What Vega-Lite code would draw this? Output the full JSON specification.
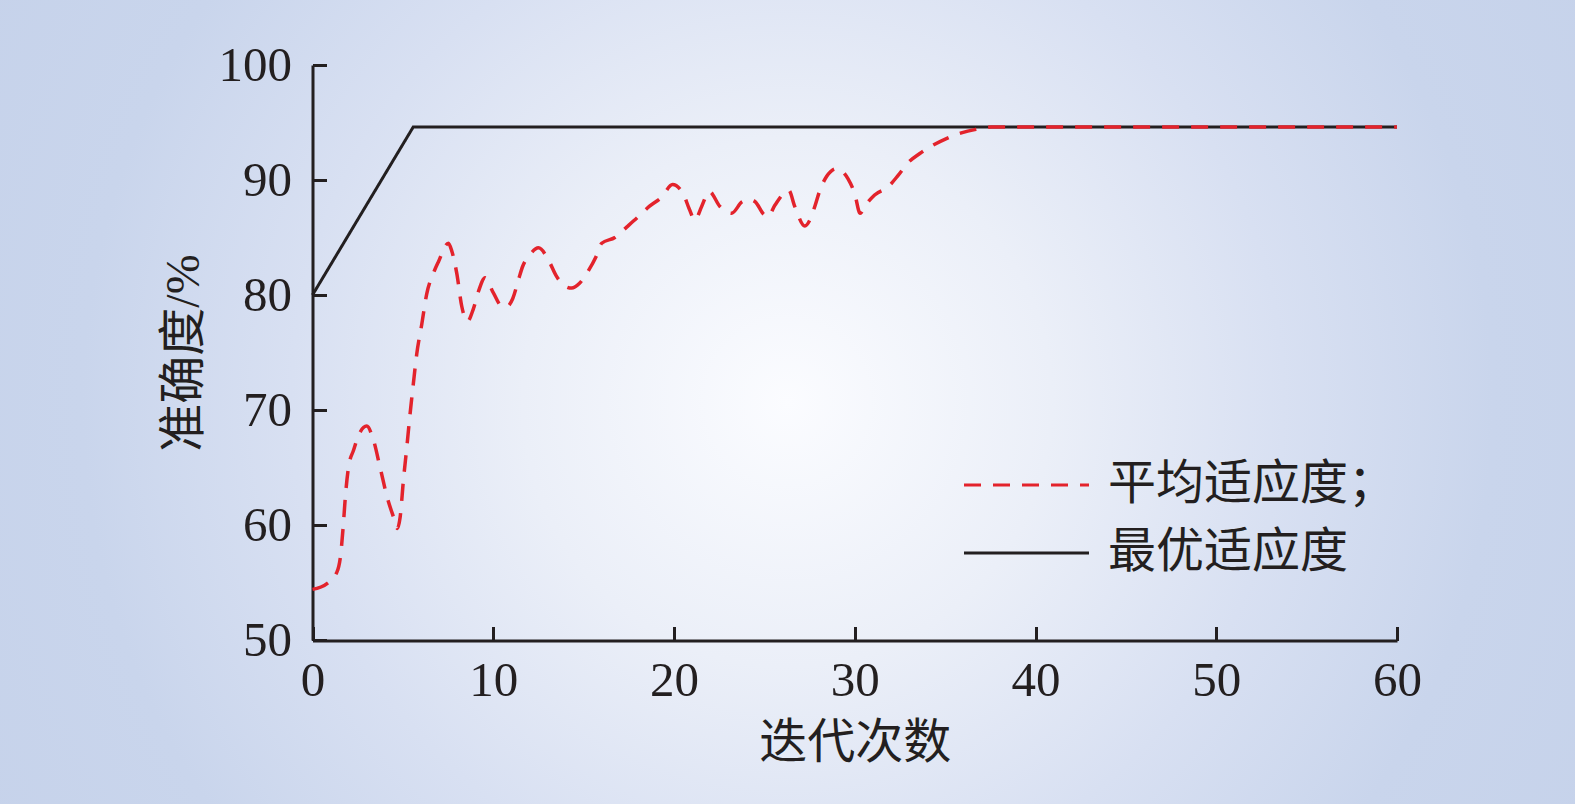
{
  "$schema": "https://vega.github.io/schema/vega-lite/v6.json",
  "width": 1575,
  "height": 804,
  "autosize": {"type": "none"},
  "padding": 0,
  "background": "#c4d1ea",
  "config": {
    "view": {
      "stroke": null,
      "fill": {
        "gradient": "radial",
        "x1": 0.5, "y1": 0.5, "r1": 0,
        "x2": 0.5, "y2": 0.5, "r2": 0.7,
        "stops": [
          {"offset": 0, "color": "#fbfcff"},
          {"offset": 0.24, "color": "#ebeff8"},
          {"offset": 0.45, "color": "#d8e0f2"},
          {"offset": 0.64, "color": "#c9d5ec"},
          {"offset": 1, "color": "#c3d0e9"}
        ]
      }
    },
    "axis": {
      "grid": false,
      "domainColor": "#231f20",
      "domainWidth": 3,
      "tickColor": "#231f20",
      "tickWidth": 3,
      "tickSize": -14,
      "labelFont": "Liberation Serif",
      "labelFontSize": 49,
      "labelColor": "#231f20",
      "labelFlush": false,
      "labelOverlap": false,
      "titleFont": "'Liberation Serif', 'Noto Sans CJK SC'",
      "titleFontSize": 48,
      "titleFontWeight": "normal",
      "titleColor": "#231f20"
    },
    "legend": {
      "orient": "none",
      "legendX": 945,
      "legendY": 461,
      "padding": 0,
      "symbolType": "M-1,0H24",
      "symbolSize": 100,
      "symbolStrokeWidth": 3,
      "labelFont": "'Liberation Serif', 'Noto Sans CJK SC'",
      "labelFontSize": 48,
      "labelColor": "#231f20",
      "labelOffset": 115,
      "labelLimit": 600,
      "rowPadding": 20
    }
  },
  "data": {
    "values": [
      {"x": 0, "y": 80, "series": "最优适应度"},
      {"x": 5.57, "y": 94.6, "series": "最优适应度"},
      {"x": 60, "y": 94.6, "series": "最优适应度"},
      {"x": 0, "y": 54.4, "series": "平均适应度；"},
      {"x": 0.8, "y": 54.9, "series": "平均适应度；"},
      {"x": 1.35, "y": 55.9, "series": "平均适应度；"},
      {"x": 1.55, "y": 57.3, "series": "平均适应度；"},
      {"x": 1.7, "y": 59.9, "series": "平均适应度；"},
      {"x": 1.82, "y": 62.5, "series": "平均适应度；"},
      {"x": 2.0, "y": 65.1, "series": "平均适应度；"},
      {"x": 2.27, "y": 66.5, "series": "平均适应度；"},
      {"x": 2.55, "y": 67.8, "series": "平均适应度；"},
      {"x": 3.0, "y": 68.6, "series": "平均适应度；"},
      {"x": 3.37, "y": 67.4, "series": "平均适应度；"},
      {"x": 3.74, "y": 65.0, "series": "平均适应度；"},
      {"x": 4.15, "y": 62.3, "series": "平均适应度；"},
      {"x": 4.48, "y": 60.7, "series": "平均适应度；"},
      {"x": 4.7, "y": 59.7, "series": "平均适应度；"},
      {"x": 4.85, "y": 60.7, "series": "平均适应度；"},
      {"x": 5.03, "y": 63.9, "series": "平均适应度；"},
      {"x": 5.22, "y": 66.8, "series": "平均适应度；"},
      {"x": 5.4, "y": 69.7, "series": "平均适应度；"},
      {"x": 5.58, "y": 72.3, "series": "平均适应度；"},
      {"x": 5.77, "y": 74.9, "series": "平均适应度；"},
      {"x": 6.05, "y": 77.5, "series": "平均适应度；"},
      {"x": 6.32, "y": 80.1, "series": "平均适应度；"},
      {"x": 6.69, "y": 81.9, "series": "平均适应度；"},
      {"x": 6.97, "y": 82.9, "series": "平均适应度；"},
      {"x": 7.52, "y": 84.5, "series": "平均适应度；"},
      {"x": 7.71, "y": 83.8, "series": "平均适应度；"},
      {"x": 7.98, "y": 81.9, "series": "平均适应度；"},
      {"x": 8.26, "y": 79.0, "series": "平均适应度；"},
      {"x": 8.57, "y": 77.7, "series": "平均适应度；"},
      {"x": 8.9, "y": 78.8, "series": "平均适应度；"},
      {"x": 9.18, "y": 80.3, "series": "平均适应度；"},
      {"x": 9.55, "y": 81.5, "series": "平均适应度；"},
      {"x": 10.0, "y": 80.2, "series": "平均适应度；"},
      {"x": 10.5, "y": 79.0, "series": "平均适应度；"},
      {"x": 10.75, "y": 79.0, "series": "平均适应度；"},
      {"x": 11.08, "y": 79.7, "series": "平均适应度；"},
      {"x": 11.39, "y": 81.3, "series": "平均适应度；"},
      {"x": 11.63, "y": 82.5, "series": "平均适应度；"},
      {"x": 12.03, "y": 83.5, "series": "平均适应度；"},
      {"x": 12.5, "y": 84.1, "series": "平均适应度；"},
      {"x": 13.1, "y": 82.9, "series": "平均适应度；"},
      {"x": 13.47, "y": 81.7, "series": "平均适应度；"},
      {"x": 14.06, "y": 80.7, "series": "平均适应度；"},
      {"x": 14.34, "y": 80.6, "series": "平均适应度；"},
      {"x": 14.76, "y": 81.0, "series": "平均适应度；"},
      {"x": 15.26, "y": 82.1, "series": "平均适应度；"},
      {"x": 15.68, "y": 83.3, "series": "平均适应度；"},
      {"x": 16.0, "y": 84.5, "series": "平均适应度；"},
      {"x": 16.73, "y": 85.0, "series": "平均适应度；"},
      {"x": 17.38, "y": 85.9, "series": "平均适应度；"},
      {"x": 18.02, "y": 86.8, "series": "平均适应度；"},
      {"x": 18.63, "y": 87.7, "series": "平均适应度；"},
      {"x": 19.31, "y": 88.5, "series": "平均适应度；"},
      {"x": 19.92, "y": 89.6, "series": "平均适应度；"},
      {"x": 20.51, "y": 88.8, "series": "平均适应度；"},
      {"x": 20.84, "y": 87.5, "series": "平均适应度；"},
      {"x": 21.16, "y": 86.5, "series": "平均适应度；"},
      {"x": 21.53, "y": 87.7, "series": "平均适应度；"},
      {"x": 21.95, "y": 89.0, "series": "平均适应度；"},
      {"x": 22.54, "y": 87.7, "series": "平均适应度；"},
      {"x": 23.18, "y": 87.1, "series": "平均适应度；"},
      {"x": 23.77, "y": 88.1, "series": "平均适应度；"},
      {"x": 24.2, "y": 88.3, "series": "平均适应度；"},
      {"x": 24.5, "y": 88.1, "series": "平均适应度；"},
      {"x": 24.97, "y": 87.0, "series": "平均适应度；"},
      {"x": 25.2, "y": 86.8, "series": "平均适应度；"},
      {"x": 25.58, "y": 87.8, "series": "平均适应度；"},
      {"x": 26.35, "y": 89.1, "series": "平均适应度；"},
      {"x": 26.68, "y": 87.7, "series": "平均适应度；"},
      {"x": 27.24, "y": 86.0, "series": "平均适应度；"},
      {"x": 27.51, "y": 86.5, "series": "平均适应度；"},
      {"x": 27.79, "y": 87.7, "series": "平均适应度；"},
      {"x": 28.07, "y": 89.1, "series": "平均适应度；"},
      {"x": 28.44, "y": 90.3, "series": "平均适应度；"},
      {"x": 29.0, "y": 91.0, "series": "平均适应度；"},
      {"x": 29.63, "y": 90.1, "series": "平均适应度；"},
      {"x": 30.0, "y": 88.8, "series": "平均适应度；"},
      {"x": 30.3, "y": 87.1, "series": "平均适应度；"},
      {"x": 30.55, "y": 87.7, "series": "平均适应度；"},
      {"x": 31.1, "y": 88.7, "series": "平均适应度；"},
      {"x": 31.84, "y": 89.4, "series": "平均适应度；"},
      {"x": 32.4, "y": 90.4, "series": "平均适应度；"},
      {"x": 32.95, "y": 91.5, "series": "平均适应度；"},
      {"x": 33.6, "y": 92.3, "series": "平均适应度；"},
      {"x": 34.3, "y": 93.0, "series": "平均适应度；"},
      {"x": 35.07, "y": 93.6, "series": "平均适应度；"},
      {"x": 35.9, "y": 94.1, "series": "平均适应度；"},
      {"x": 36.7, "y": 94.4, "series": "平均适应度；"},
      {"x": 37.55, "y": 94.6, "series": "平均适应度；"},
      {"x": 40, "y": 94.6, "series": "平均适应度；"},
      {"x": 50, "y": 94.6, "series": "平均适应度；"},
      {"x": 60, "y": 94.6, "series": "平均适应度；"}
    ]
  },
  "encoding": {
    "x": {
      "field": "x",
      "type": "quantitative",
      "scale": {"domain": [0, 60], "range": [312.5, 1397], "nice": false, "zero": false},
      "axis": {
        "title": "迭代次数",
        "values": [0, 10, 20, 30, 40, 50, 60],
        "offset": -163.5,
        "labelPadding": 30,
        "titlePadding": 14
      }
    },
    "y": {
      "field": "y",
      "type": "quantitative",
      "scale": {"domain": [50, 100], "range": [640, 65], "nice": false, "zero": false},
      "axis": {
        "title": "准确度/%",
        "values": [50, 60, 70, 80, 90, 100],
        "offset": -312.5,
        "labelPadding": 35,
        "titlePadding": 10
      }
    },
    "color": {
      "field": "series",
      "type": "nominal",
      "scale": {"domain": ["平均适应度；", "最优适应度"], "range": ["#e3232c", "#231f20"]},
      "legend": {"title": null}
    },
    "strokeDash": {
      "field": "series",
      "type": "nominal",
      "scale": {"domain": ["平均适应度；", "最优适应度"], "range": [[17, 12], [1, 0]]},
      "legend": {"title": null}
    }
  },
  "layer": [
    {
      "transform": [{"filter": "datum.series === '最优适应度'"}],
      "mark": {"type": "line", "strokeWidth": 3}
    },
    {
      "transform": [{"filter": "datum.series === '平均适应度；'"}],
      "mark": {"type": "line", "strokeWidth": 3.5, "interpolate": "monotone"}
    }
  ]
}
